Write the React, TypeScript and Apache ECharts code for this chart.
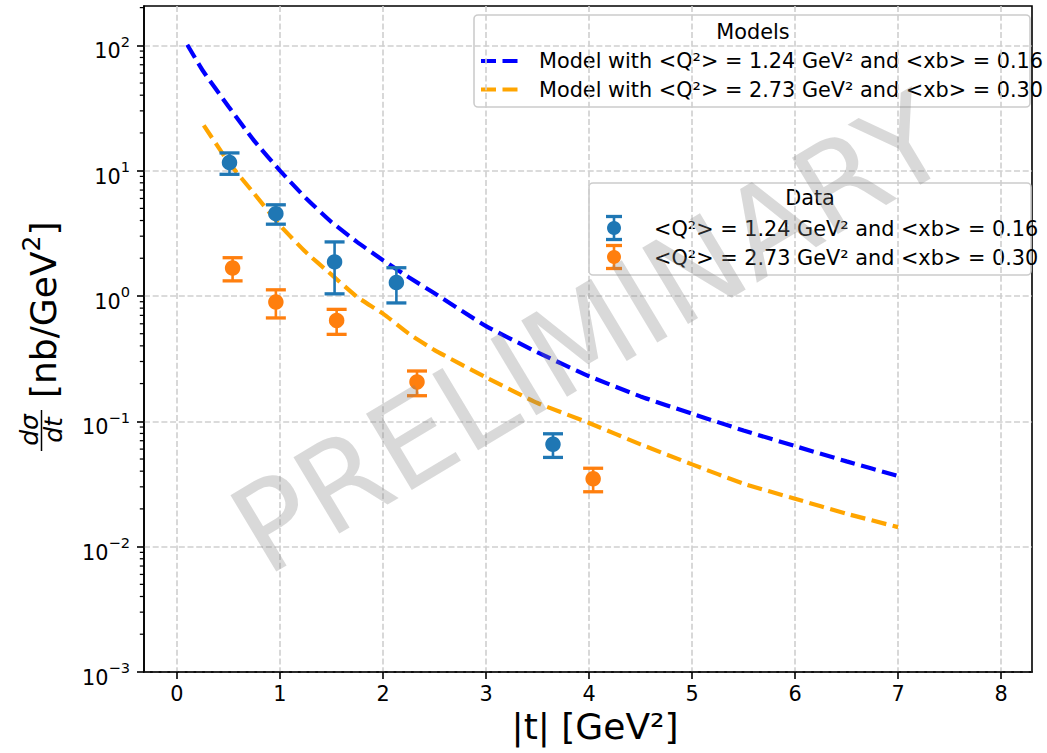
import React, { useEffect, useRef } from "react";
import * as echarts from "echarts";

const FONT = "'DejaVu Sans', 'Liberation Sans', sans-serif";

// Axis ranges
const X_MIN = -0.32;
const X_MAX = 8.3;
const Y_MIN = 0.000999;
const Y_MAX = 206;

// Tick values
const xTicks = [0, 1, 2, 3, 4, 5, 6, 7, 8];
const yTicks = [0.001, 0.01, 0.1, 1, 10, 100];
const yMinorTicks: number[] = [];
for (let e = -3; e <= 2; e++) {
  for (let m = 2; m <= 9; m++) {
    const v = m * Math.pow(10, e);
    if (v < Y_MAX) yMinorTicks.push(v);
  }
}

// Model curves (|t| in GeV², dσ/dt in nb/GeV²)
const modelLowT = [0.1, 0.25, 0.5, 0.75, 1, 1.25, 1.5, 1.75, 2, 2.25, 2.5, 3, 3.5, 4, 4.5, 5, 5.5, 6, 6.5, 7];
const modelLowXsec = [101, 63, 32.5, 17.3, 10, 6.05, 3.89, 2.69, 1.93, 1.41, 1.05, 0.575, 0.355, 0.229, 0.158, 0.115, 0.0845, 0.0634, 0.0479, 0.0366];
const modelHighT = [0.26, 0.5, 0.75, 1, 1.25, 1.5, 1.75, 2, 2.25, 2.5, 3, 3.5, 4, 4.5, 5, 5.5, 6, 6.5, 7];
const modelHighXsec = [23.0, 11.7, 6.55, 3.66, 2.24, 1.48, 0.98, 0.723, 0.5, 0.37, 0.224, 0.14, 0.097, 0.0655, 0.0453, 0.0318, 0.0241, 0.0183, 0.0143];

// Measured points with symmetric uncertainties
const dataLowT = [0.51, 0.96, 1.53, 2.13, 3.65];
const dataLowXsec = [11.6, 4.54, 1.87, 1.28, 0.0655];
const dataLowErr = [2.25, 0.8, 0.83, 0.4, 0.014];
const dataHighT = [0.54, 0.96, 1.55, 2.33, 4.04];
const dataHighXsec = [1.67, 0.894, 0.638, 0.206, 0.0348];
const dataHighErr = [0.35, 0.226, 0.144, 0.046, 0.0074];

const labelLow = "<Q²> = 1.24 GeV² and <xb> = 0.16";
const labelHigh = "<Q²> = 2.73 GeV² and <xb> = 0.30";

const BLUE_MODEL = "#0000ff";
const ORANGE_MODEL = "#ffa500";
const BLUE = "#1f77b4";
const ORANGE = "#ff7f0e";
const GRID_COLOR = "#cfcfcf";

const errorBarItem = (color: string) => (_params: any, api: any) => {
  const t = api.value(0);
  const y = api.value(1);
  const e = api.value(2);
  const top = api.coord([t, y + e]);
  const bot = api.coord([t, y - e]);
  const half = 10;
  return {
    type: "group",
    children: [
      { type: "line", shape: { x1: top[0], y1: top[1], x2: bot[0], y2: bot[1] }, style: { stroke: color, lineWidth: 2.6 } },
      { type: "line", shape: { x1: top[0] - half, y1: top[1], x2: top[0] + half, y2: top[1] }, style: { stroke: color, lineWidth: 3.3 } },
      { type: "line", shape: { x1: bot[0] - half, y1: bot[1], x2: bot[0] + half, y2: bot[1] }, style: { stroke: color, lineWidth: 3.3 } },
    ],
  };
};

const legendErrorMarker = (cx: number, cy: number, color: string) => ({
  type: "group",
  children: [
    { type: "line", shape: { x1: cx, y1: cy - 11.5, x2: cx, y2: cy + 11.5 }, style: { stroke: color, lineWidth: 2.6 } },
    { type: "line", shape: { x1: cx - 8, y1: cy - 11.5, x2: cx + 8, y2: cy - 11.5 }, style: { stroke: color, lineWidth: 3.3 } },
    { type: "line", shape: { x1: cx - 8, y1: cy + 11.5, x2: cx + 8, y2: cy + 11.5 }, style: { stroke: color, lineWidth: 3.3 } },
    { type: "circle", shape: { cx, cy, r: 7 }, style: { fill: color } },
  ],
});

const legendText = (x: number, y: number, text: string, align = "left") => ({
  type: "text",
  x,
  y,
  style: { text, fontSize: 20.8, fontFamily: FONT, fill: "#000", align, verticalAlign: "middle" },
});

export default function App() {
  const ref = useRef<HTMLDivElement>(null);

  useEffect(() => {
    if (!ref.current) return;
    const chart = echarts.init(ref.current, undefined, { renderer: "svg" });

    const axisLineStyle = { color: "#000", width: 1.6 };
    const splitLineStyle = { color: GRID_COLOR, width: 1.6, type: [6, 2.7] };

    const option: any = {
      animation: false,
      backgroundColor: "#fff",
      grid: {
        left: 144,
        right: 15,
        top: 6,
        bottom: 81,
        show: true,
        borderColor: "#000",
        borderWidth: 1.6,
        backgroundColor: "transparent",
      },
      xAxis: {
        type: "value",
        min: X_MIN,
        max: X_MAX,
        minInterval: 1,
        maxInterval: 1,
        axisLine: { show: true, onZero: false, lineStyle: axisLineStyle },
        axisTick: { show: true, length: 7, lineStyle: axisLineStyle, customValues: xTicks },
        axisLabel: {
          customValues: xTicks,
          fontSize: 20.8,
          fontFamily: FONT,
          color: "#000",
          margin: 11,
        },
        splitLine: { show: true, lineStyle: splitLineStyle },
        name: "|t| [GeV²]",
        nameLocation: "middle",
        nameGap: 31,
        nameTextStyle: { fontSize: 36, fontFamily: FONT, color: "#000", verticalAlign: "top", padding: [0, 0, 0, 14] },
      },
      yAxis: {
        type: "log",
        logBase: 10,
        min: Y_MIN,
        max: Y_MAX,
        axisLine: { show: true, onZero: false, lineStyle: axisLineStyle },
        axisTick: { show: true, length: 7, lineStyle: axisLineStyle, customValues: yTicks },
        axisLabel: {
          customValues: yTicks,
          margin: 14,
          padding: [5, 0, 0, 0],
          formatter: (v: number) => {
            const p = Math.round(Math.log10(v));
            const exp = p < 0 ? "\u2212" + Math.abs(p) : String(p);
            return "{b|10}{s|" + exp + "}";
          },
          rich: {
            b: { fontSize: 20.8, fontFamily: FONT, color: "#000", lineHeight: 28, verticalAlign: "bottom" },
            s: { fontSize: 14.6, fontFamily: FONT, color: "#000", lineHeight: 15, verticalAlign: "top" },
          },
        },
        splitLine: { show: true, lineStyle: splitLineStyle },
      },
      series: [
        {
          name: "Model with " + labelLow,
          type: "line",
          data: modelLowT.map((t, i) => [t, modelLowXsec[i]]),
          showSymbol: false,
          smooth: 0.15,
          lineStyle: { color: BLUE_MODEL, width: 4.2, type: [15, 6.5] },
          z: 3,
        },
        {
          name: "Model with " + labelHigh,
          type: "line",
          data: modelHighT.map((t, i) => [t, modelHighXsec[i]]),
          showSymbol: false,
          smooth: 0.15,
          lineStyle: { color: ORANGE_MODEL, width: 4.2, type: [15, 6.5] },
          z: 3,
        },
        {
          type: "custom",
          renderItem: errorBarItem(BLUE),
          data: dataLowT.map((t, i) => [t, dataLowXsec[i], dataLowErr[i]]),
          encode: { x: 0, y: 1 },
          z: 4,
          silent: true,
        },
        {
          name: labelLow,
          type: "scatter",
          data: dataLowT.map((t, i) => [t, dataLowXsec[i]]),
          symbol: "circle",
          symbolSize: 15.5,
          itemStyle: { color: BLUE, opacity: 1 },
          z: 5,
        },
        {
          type: "custom",
          renderItem: errorBarItem(ORANGE),
          data: dataHighT.map((t, i) => [t, dataHighXsec[i], dataHighErr[i]]),
          encode: { x: 0, y: 1 },
          z: 4,
          silent: true,
        },
        {
          name: labelHigh,
          type: "scatter",
          data: dataHighT.map((t, i) => [t, dataHighXsec[i]]),
          symbol: "circle",
          symbolSize: 15.5,
          itemStyle: { color: ORANGE, opacity: 1 },
          z: 5,
        },
        {
          // minor ticks of the logarithmic axis (2..9 × 10^n)
          type: "custom",
          clip: false,
          silent: true,
          data: yMinorTicks.map((v) => [X_MIN, v]),
          encode: { x: 0, y: 1 },
          renderItem: (_p: any, api: any) => {
            const p = api.coord([X_MIN, api.value(1)]);
            return {
              type: "line",
              shape: { x1: p[0] - 4.2, y1: p[1], x2: p[0], y2: p[1] },
              style: { stroke: "#000", lineWidth: 1.25 },
            };
          },
        },
      ],
      graphic: [
        // y-axis title: dσ/dt [nb/GeV²]
        {
          type: "group",
          x: 40,
          y: 334,
          rotation: Math.PI / 2,
          children: [
            {
              type: "text",
              x: -96,
              y: -11,
              style: { text: "dσ", fontSize: 25, fontStyle: "italic", fontFamily: FONT, fill: "#000", align: "center", verticalAlign: "middle" },
            },
            { type: "line", shape: { x1: -117, y1: 1.5, x2: -76, y2: 1.5 }, style: { stroke: "#000", lineWidth: 1.5 } },
            {
              type: "text",
              x: -96,
              y: 13.5,
              style: { text: "dt", fontSize: 25, fontStyle: "italic", fontFamily: FONT, fill: "#000", align: "center", verticalAlign: "middle" },
            },
            {
              type: "text",
              x: -64,
              y: 0,
              style: {
                text: "{a|[nb/GeV}{s|2}{a|]}",
                align: "left",
                verticalAlign: "middle",
                rich: {
                  a: { fontSize: 36, fontFamily: FONT, fill: "#000", lineHeight: 42, verticalAlign: "bottom" },
                  s: { fontSize: 25, fontFamily: FONT, fill: "#000", lineHeight: 24, verticalAlign: "top" },
                },
              },
            },
          ],
        },
        // watermark
        {
          type: "text",
          x: 590,
          y: 334,
          rotation: (31 * Math.PI) / 180,
          z: 50,
          silent: true,
          style: {
            text: "PRELIMINARY",
            fontSize: 122,
            fontFamily: FONT,
            fill: "rgba(128,128,128,0.3)",
            align: "center",
            verticalAlign: "middle",
          },
        },
        // legend: models
        {
          type: "group",
          z: 100,
          children: [
            {
              type: "rect",
              shape: { x: 474, y: 15, width: 556, height: 92, r: 4 },
              style: { fill: "rgba(255,255,255,0.8)", stroke: "#cccccc", lineWidth: 1.6 },
            },
            legendText(753, 32, "Models", "center"),
            { type: "line", shape: { x1: 481, y1: 61, x2: 519, y2: 61 }, style: { stroke: BLUE_MODEL, lineWidth: 4.2, lineDash: [15, 6.5] } },
            legendText(539, 61, "Model with " + labelLow),
            { type: "line", shape: { x1: 481, y1: 89.5, x2: 519, y2: 89.5 }, style: { stroke: ORANGE_MODEL, lineWidth: 4.2, lineDash: [15, 6.5] } },
            legendText(539, 89.5, "Model with " + labelHigh),
          ],
        },
        // legend: data
        {
          type: "group",
          z: 100,
          children: [
            {
              type: "rect",
              shape: { x: 589, y: 183, width: 442, height: 92, r: 4 },
              style: { fill: "rgba(255,255,255,0.8)", stroke: "#cccccc", lineWidth: 1.6 },
            },
            legendText(810, 198, "Data", "center"),
            legendErrorMarker(614, 228, BLUE),
            legendText(654, 228.5, labelLow),
            legendErrorMarker(614, 257, ORANGE),
            legendText(654, 257.5, labelHigh),
          ],
        },
      ],
    };

    chart.setOption(option);
    return () => chart.dispose();
  }, []);

  return (
    <div
      ref={ref}
      style={{ position: "fixed", left: 0, top: 0, width: 1047, height: 753, background: "#fff" }}
    />
  );
}
